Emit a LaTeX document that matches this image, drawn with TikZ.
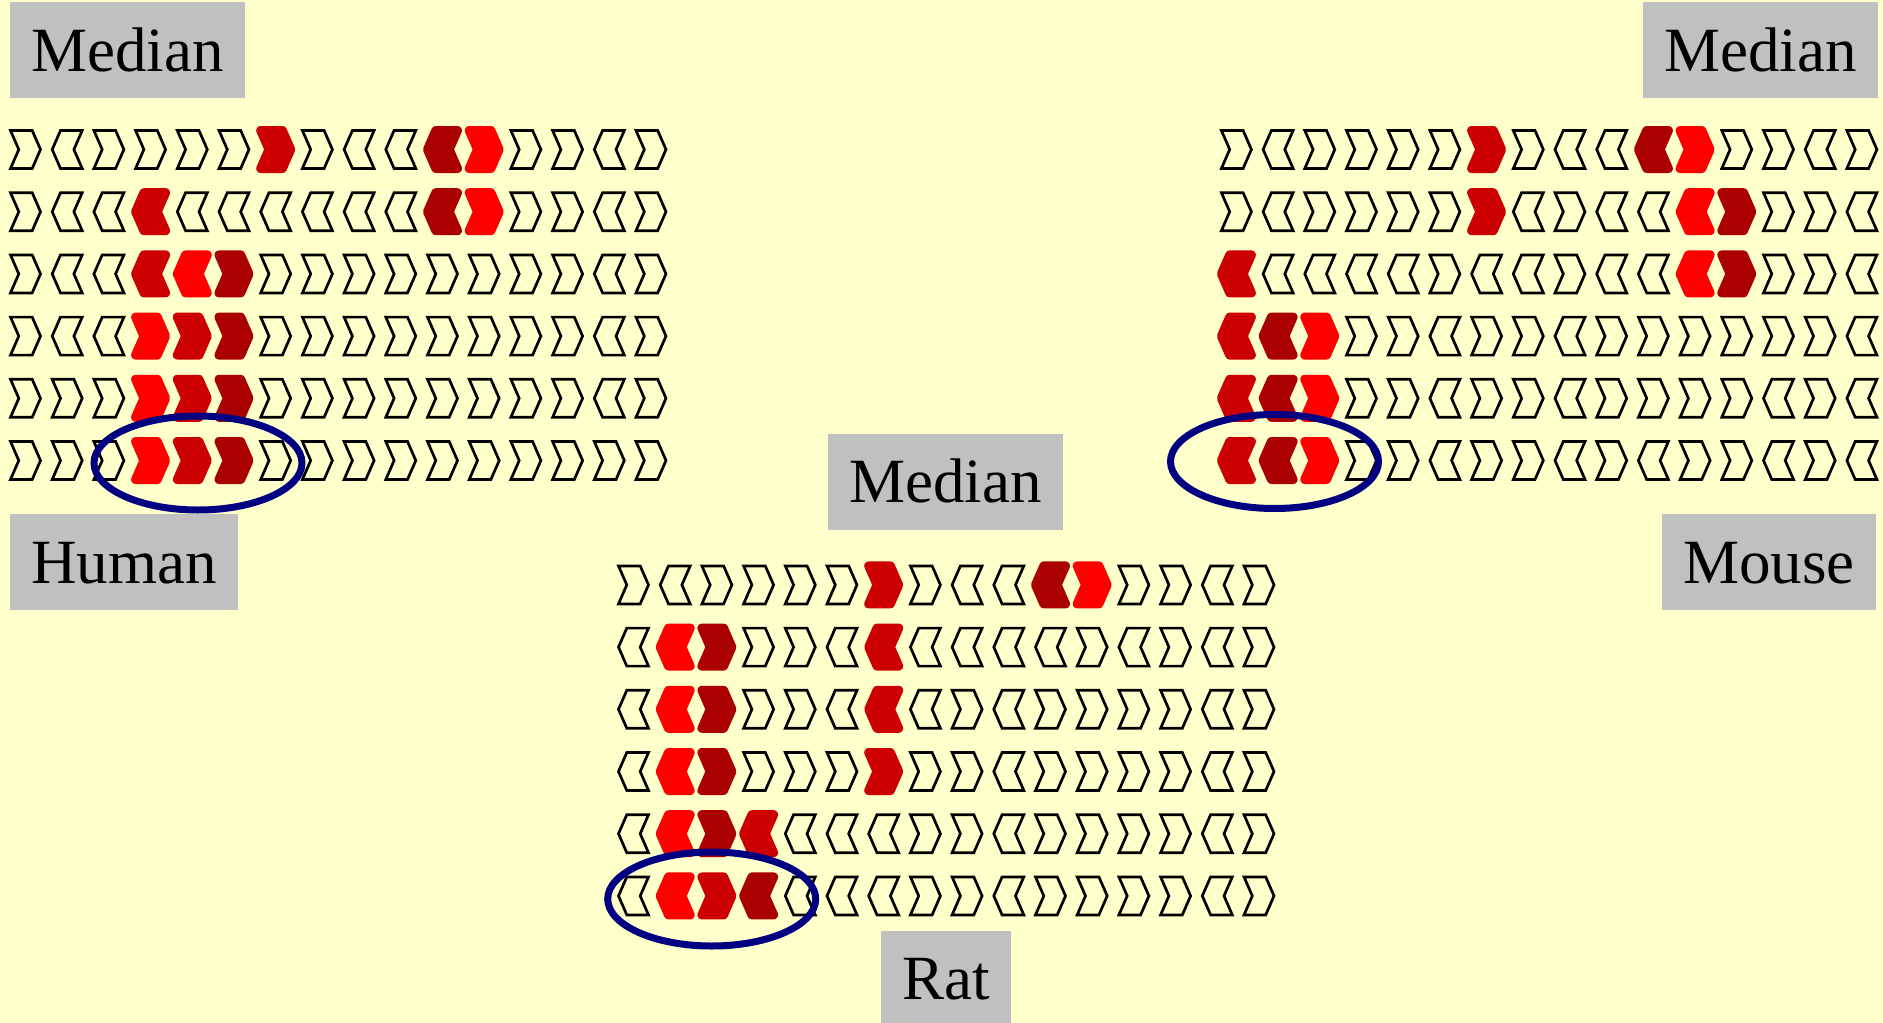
\documentclass[tikz,border=0pt]{standalone}
\usepackage{fontspec}
\setmainfont{Liberation Serif}

\definecolor{paper}{HTML}{FFFFCC}
\definecolor{tagfill}{HTML}{C0C0C0}
\definecolor{hiA}{HTML}{FF0000}
\definecolor{hiB}{HTML}{CC0000}
\definecolor{hiC}{HTML}{AA0000}
\definecolor{ringblue}{HTML}{000080}

\tikzset{
  dir R/.style={},
  dir L/.style={xscale=-1},
  chev o/.style={draw=black, line width=2.7pt, line join=miter},
  chev a/.style={draw=hiA, fill=hiA, line width=9pt, line join=round},
  chev b/.style={draw=hiB, fill=hiB, line width=9pt, line join=round},
  chev c/.style={draw=hiC, fill=hiC, line width=9pt, line join=round},
  tagbox/.style={fill=tagfill, font=\fontsize{63}{63}\selectfont,
    inner xsep=21pt, inner ysep=27pt, text height=42pt, text depth=0pt},
  ringline/.style={draw=ringblue, line width=7pt}
}

% one row of 16 chevrons: first centre x, centre y, list of direction/colour
\newcommand\chevronrow[3]{%
  \foreach \cdir/\ccol [count=\i from 0] in {#3}
    \path[shift={(#1+41.7*\i,#2)}, dir \cdir, chev \ccol]
      (-15,-19) -- (6.7,-19) -- (15,0) -- (6.7,19) -- (-15,19) -- (-6.7,0) -- cycle;
}

\begin{document}
\begin{tikzpicture}[x=1pt,y=-1pt]
\useasboundingbox (0,0) rectangle (1883,1023);
\fill[paper] (0,0) rectangle (1883,1023);

% human
\chevronrow{25.5}{149.5}{R/o,L/o,R/o,R/o,R/o,R/o,R/b,R/o,L/o,L/o,L/c,R/a,R/o,R/o,L/o,R/o}
\chevronrow{25.5}{211.7}{R/o,L/o,L/o,L/b,L/o,L/o,L/o,L/o,L/o,L/o,L/c,R/a,R/o,R/o,L/o,R/o}
\chevronrow{25.5}{273.9}{R/o,L/o,L/o,L/b,L/a,R/c,R/o,R/o,R/o,R/o,R/o,R/o,R/o,R/o,L/o,R/o}
\chevronrow{25.5}{336.1}{R/o,L/o,L/o,R/a,R/b,R/c,R/o,R/o,R/o,R/o,R/o,R/o,R/o,R/o,L/o,R/o}
\chevronrow{25.5}{398.3}{R/o,R/o,R/o,R/a,R/b,R/c,R/o,R/o,R/o,R/o,R/o,R/o,R/o,R/o,L/o,R/o}
\chevronrow{25.5}{460.5}{R/o,R/o,R/o,R/a,R/b,R/c,R/o,R/o,R/o,R/o,R/o,R/o,R/o,R/o,R/o,R/o}

% mouse
\chevronrow{1236.4}{149.5}{R/o,L/o,R/o,R/o,R/o,R/o,R/b,R/o,L/o,L/o,L/c,R/a,R/o,R/o,L/o,R/o}
\chevronrow{1236.4}{211.7}{R/o,L/o,R/o,R/o,R/o,R/o,R/b,L/o,R/o,L/o,L/o,L/a,R/c,R/o,R/o,L/o}
\chevronrow{1236.4}{273.9}{L/b,L/o,L/o,L/o,L/o,R/o,L/o,L/o,R/o,L/o,L/o,L/a,R/c,R/o,R/o,L/o}
\chevronrow{1236.4}{336.1}{L/b,L/c,R/a,R/o,R/o,L/o,R/o,R/o,L/o,R/o,R/o,R/o,R/o,R/o,R/o,L/o}
\chevronrow{1236.4}{398.3}{L/b,L/c,R/a,R/o,R/o,L/o,R/o,R/o,L/o,R/o,R/o,R/o,R/o,L/o,R/o,L/o}
\chevronrow{1236.4}{460.5}{L/b,L/c,R/a,R/o,R/o,L/o,R/o,R/o,L/o,R/o,L/o,R/o,R/o,L/o,R/o,L/o}

% rat
\chevronrow{633.5}{584.9}{R/o,L/o,R/o,R/o,R/o,R/o,R/b,R/o,L/o,L/o,L/c,R/a,R/o,R/o,L/o,R/o}
\chevronrow{633.5}{647.1}{L/o,L/a,R/c,R/o,R/o,L/o,L/b,L/o,L/o,L/o,L/o,R/o,L/o,R/o,L/o,R/o}
\chevronrow{633.5}{709.3}{L/o,L/a,R/c,R/o,R/o,L/o,L/b,L/o,R/o,L/o,R/o,R/o,R/o,R/o,L/o,R/o}
\chevronrow{633.5}{771.5}{L/o,L/a,R/c,R/o,R/o,R/o,R/b,R/o,R/o,L/o,R/o,R/o,R/o,R/o,L/o,R/o}
\chevronrow{633.5}{833.7}{L/o,L/a,R/c,L/b,L/o,L/o,L/o,R/o,R/o,L/o,R/o,R/o,R/o,R/o,L/o,R/o}
\chevronrow{633.5}{895.9}{L/o,L/a,R/b,L/c,L/o,L/o,L/o,R/o,R/o,L/o,R/o,R/o,R/o,R/o,L/o,R/o}

% rings round the conserved triplets
\draw[ringline] (198,463) ellipse [x radius=104, y radius=47];
\draw[ringline] (1274.5,461.5) ellipse [x radius=104, y radius=47];
\draw[ringline] (711.7,899) ellipse [x radius=104, y radius=47];

% labels
\node[tagbox, anchor=north west] (medianH) at (10,2) {Median};
\node[tagbox, anchor=north east] (medianM) at (1878,2) {Median};
\node[tagbox, anchor=north west] (human) at (10,514) {Human};
\node[tagbox, anchor=north east] (mouse) at (1876,514) {Mouse};
\node[tagbox] (medianR) at (945.7,481.5) {Median};
\node[tagbox] (rat) at (946,978.7) {Rat};
\end{tikzpicture}
\end{document}
